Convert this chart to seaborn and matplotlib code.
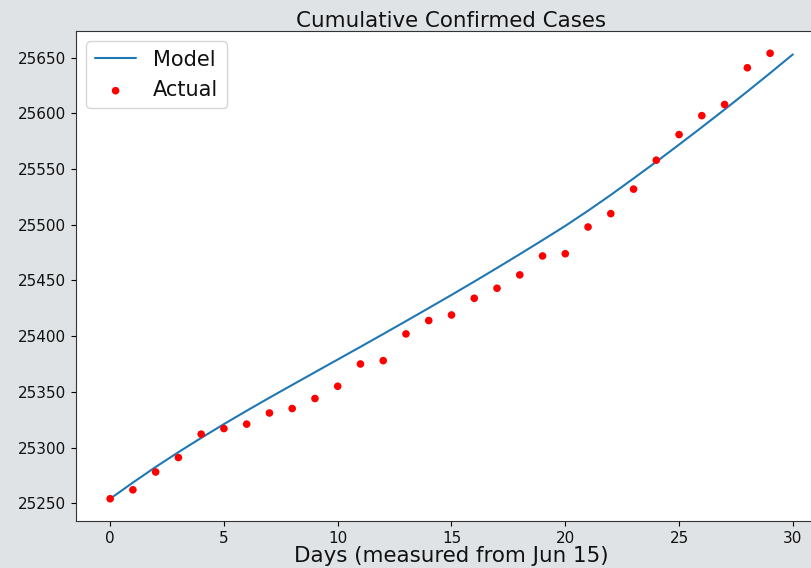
import matplotlib
matplotlib.use("Agg")
import matplotlib.pyplot as plt
import seaborn as sns
import pandas as pd

# ---- data ----
days_actual = list(range(30))
actual_cases = [25254, 25262, 25278, 25291, 25312, 25317, 25321, 25331, 25335, 25344,
                25355, 25375, 25378, 25402, 25414, 25419, 25434, 25443, 25455, 25472,
                25474, 25498, 25510, 25532, 25558, 25581, 25598, 25608, 25641, 25654]

days_model = list(range(31))
model_cases = [25254.0, 25268.5, 25282.5, 25295.8, 25308.6, 25321.0, 25333.0, 25344.7,
               25356.2, 25367.6, 25379.0, 25390.4, 25401.9, 25413.5, 25425.2, 25437.0,
               25449.0, 25461.2, 25473.6, 25486.2, 25499.0, 25512.6, 25526.8, 25541.6,
               25556.6, 25572.0, 25587.6, 25603.5, 25619.7, 25636.2, 25653.0]

title = "Cumulative Confirmed Cases"
xlabel = "Days (measured from Jun 15)"
xticks = [0, 5, 10, 15, 20, 25, 30]
yticks = [25250, 25300, 25350, 25400, 25450, 25500, 25550, 25600, 25650]

df_actual = pd.DataFrame({"day": days_actual, "cases": actual_cases})
df_model = pd.DataFrame({"day": days_model, "cases": model_cases})

sns.set_style("ticks")
plt.rcParams["font.family"] = ["DejaVu Sans"]
plt.rcParams["text.color"] = "black"
plt.rcParams["axes.labelcolor"] = "black"

fig = plt.figure(figsize=(8.12, 5.68), dpi=100, facecolor="#dfe3e6")
ax = fig.add_axes([76 / 812, 47 / 568, (827 - 76) / 812, (521 - 31) / 568])
ax.set_facecolor("white")

sns.lineplot(data=df_model, x="day", y="cases", ax=ax, color="#1f77b4",
             linewidth=1.5, label="Model")
sns.scatterplot(data=df_actual, x="day", y="cases", ax=ax, color="red",
                s=30, edgecolor="none", label="Actual", zorder=3)

ax.set_xlim(-1.5, 31.5)
ax.set_ylim(25234, 25674)
ax.set_xticks(xticks)
ax.set_yticks(yticks)
ax.tick_params(axis="both", labelsize=11, colors="black", labelcolor="#111111",
               length=3.5, width=0.8)
for sp in ax.spines.values():
    sp.set_color("#333333")
    sp.set_linewidth(0.8)

ax.set_title(title, fontsize=15.4, pad=3, color="#111111")
ax.set_xlabel(xlabel, fontsize=15.4, labelpad=0, color="#111111")
ax.set_ylabel("")

leg = ax.legend(loc="upper left", fontsize=15, frameon=True)
leg.get_frame().set_edgecolor("#cccccc")
for t in leg.get_texts():
    t.set_color("#111111")

fig.savefig("out.png", dpi=100, facecolor=fig.get_facecolor())
